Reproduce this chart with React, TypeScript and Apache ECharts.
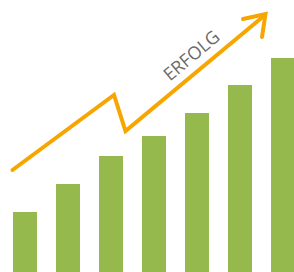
import React, { useEffect, useRef } from "react";
import * as echarts from "echarts";

const categories = ["1", "2", "3", "4", "5", "6", "7"];
const barValues = [60, 88, 116, 136, 159, 187, 214];
// arrow path in chart units (x: 0..294, y: 0..272)
const arrowX = [12.5, 114, 125.5, 265];
const arrowY = [102, 177, 141, 257];
const headX = [243, 265.5, 262];
const headY = [253, 258, 235];
const label = "ERFOLG";

export default function App() {
  const ref = useRef<HTMLDivElement>(null);
  useEffect(() => {
    document.body.style.margin = "0";
    const chart = echarts.init(ref.current!, undefined, { renderer: "svg" });
    const orange = "#F7A600";
    chart.setOption({
      animation: false,
      grid: [
        { left: 25, right: 11, top: 0, bottom: 0 },
        { left: 0, right: 0, top: 0, bottom: 0 },
      ],
      xAxis: [
        { type: "category", data: categories, gridIndex: 0, show: false, boundaryGap: false },
        { type: "value", min: 0, max: 294, gridIndex: 1, show: false },
      ],
      yAxis: [
        { type: "value", min: 0, max: 272, gridIndex: 0, show: false },
        { type: "value", min: 0, max: 272, gridIndex: 1, show: false },
      ],
      series: [
        {
          type: "bar",
          data: barValues,
          xAxisIndex: 0,
          yAxisIndex: 0,
          barWidth: 24,
          clip: false,
          itemStyle: { color: "#96B94E" },
          silent: true,
        },
        {
          type: "line",
          xAxisIndex: 1,
          yAxisIndex: 1,
          data: arrowX.map((x, i) => [x, arrowY[i]]),
          symbol: "none",
          lineStyle: { color: orange, width: 4, cap: "round", join: "miter" },
          silent: true,
        },
        {
          type: "line",
          xAxisIndex: 1,
          yAxisIndex: 1,
          data: headX.map((x, i) => [x, headY[i]]),
          symbol: "none",
          lineStyle: { color: orange, width: 4, cap: "round", join: "miter" },
          silent: true,
        },
      ],
      graphic: [
        {
          type: "text",
          x: 191,
          y: 55,
          rotation: (40 * Math.PI) / 180,
          style: {
            text: label,
            fill: "#6B6B6B",
            font: "18px 'Open Sans', sans-serif",
            textAlign: "center",
            textVerticalAlign: "middle",
          },
        },
      ],
    });
    return () => chart.dispose();
  }, []);
  return <div ref={ref} style={{ width: 294, height: 272 }} />;
}
